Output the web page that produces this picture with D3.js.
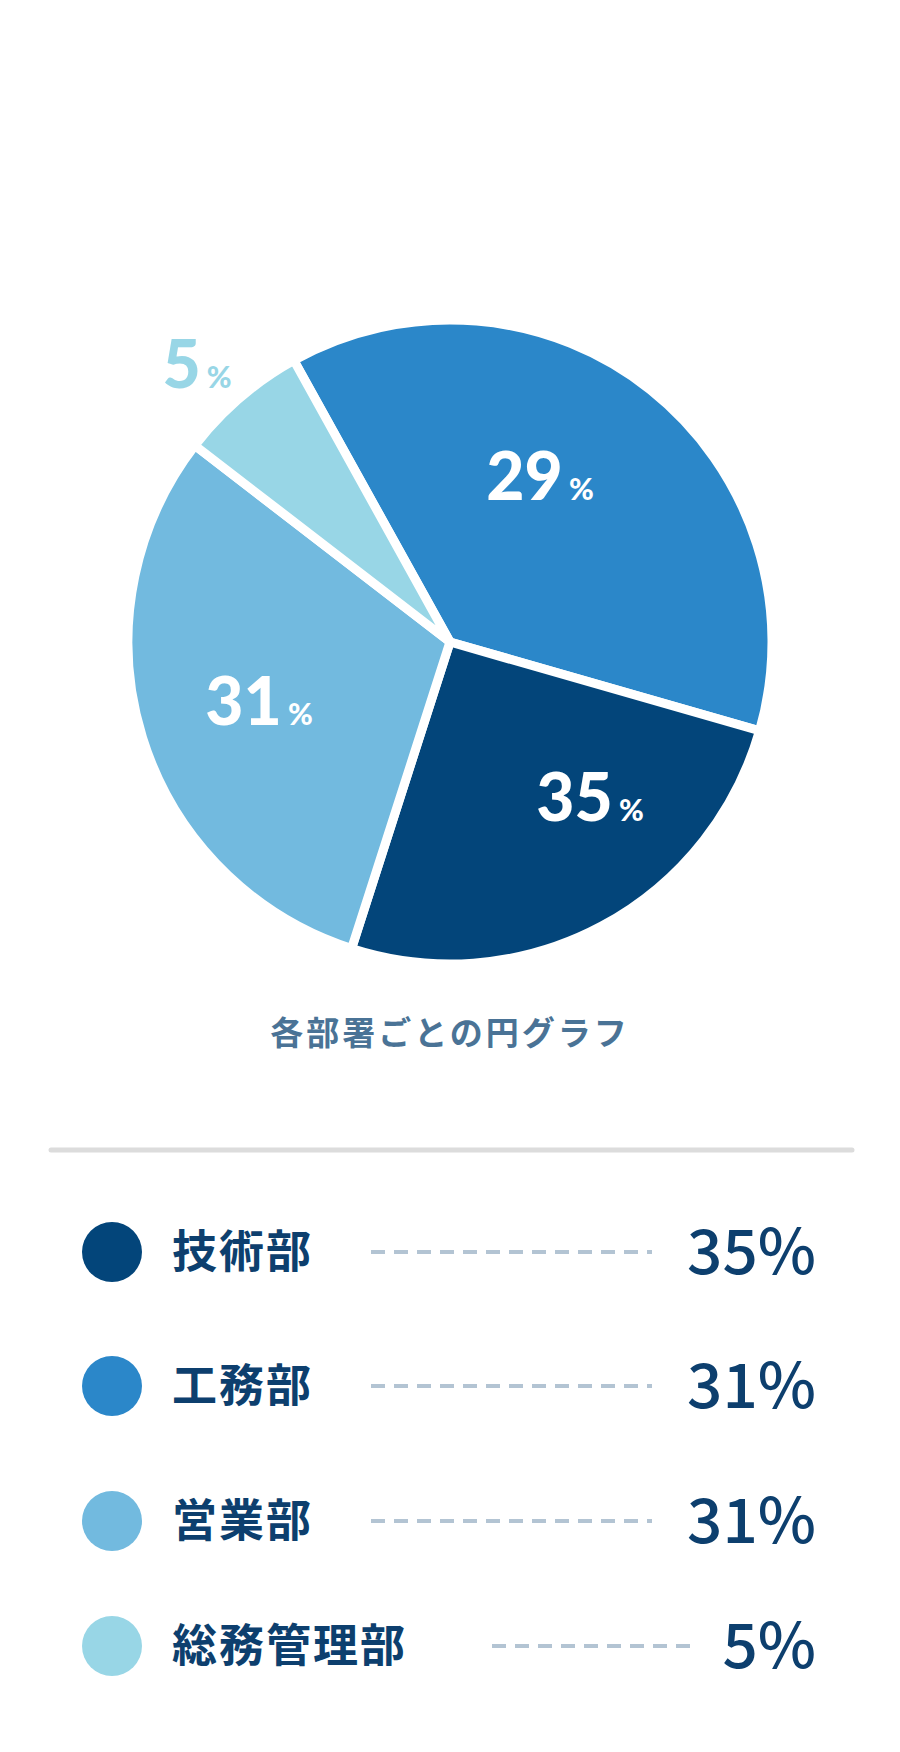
<!DOCTYPE html>
<html><head><meta charset="utf-8">
<script src="https://cdn.jsdelivr.net/npm/d3@7"></script>
<style>body{margin:0;background:#fff}svg{display:block}</style>
</head><body>
<svg id="chart" width="900" height="1752"></svg>
<script>
// slices as drawn (clockwise from top), labels as printed
var depts = ["工務部", "技術部", "営業部", "総務管理部"];
var drawnShare = [37.5, 25.5, 30.5, 6.5];
var pieLabels = ["29", "35", "31", "5"];
var colors = ["#2b87c9", "#03457a", "#72badf", "#98d6e6"];

var legendNames = ["技術部", "工務部", "営業部", "総務管理部"];
var legendValues = ["35%", "31%", "31%", "5%"];
var legendColors = ["#03457a", "#2b87c9", "#72badf", "#98d6e6"];

var svg = d3.select("#chart");
var cx = 450, cy = 642, r = 322;
var startA = -29 * Math.PI / 180;

var pie = d3.pie().sort(null).value(function(d){return d;})
    .startAngle(startA).endAngle(startA + 2 * Math.PI);
var arcs = pie(drawnShare);
var arc = d3.arc().innerRadius(0).outerRadius(r);

var g = svg.append("g").attr("transform", "translate(" + cx + "," + cy + ")");
g.selectAll("path").data(arcs).enter().append("path")
    .attr("d", arc)
    .attr("fill", function(d, i){return colors[i];})
    .attr("stroke", "#fff").attr("stroke-width", 9).attr("stroke-linejoin", "round");

var labelPos = [[90, -164], [140, 157], [-191, 61], [-253, -276]];
var lab = g.selectAll("text.lab").data(arcs).enter().append("text")
    .attr("class", "lab")
    .attr("x", function(d, i){return labelPos[i][0];})
    .attr("y", function(d, i){return labelPos[i][1] + 22;})
    .attr("text-anchor", "middle")
    .attr("fill", function(d, i){return i === 3 ? "#98d6e6" : "#fff";})
    .style("font-family", "Lato, 'Open Sans', sans-serif").style("font-weight", 900);
lab.append("tspan").style("font-size", "66px").text(function(d, i){return pieLabels[i];});
lab.append("tspan").style("font-size", "30px").attr("dx", 6).text("%");

svg.append("text").attr("x", 450).attr("y", 1045).attr("text-anchor", "middle")
    .attr("fill", "#4a7396").style("font-family", "'Noto Sans CJK JP', sans-serif")
    .style("font-weight", 700).style("font-size", "33px").style("letter-spacing", "3px")
    .text("各部署ごとの円グラフ");

svg.append("line").attr("x1", 51).attr("x2", 852).attr("y1", 1150).attr("y2", 1150)
    .attr("stroke", "#dcdcdc").attr("stroke-width", 5).attr("stroke-linecap", "round");

var rowY = [1252, 1386, 1521, 1646];
var dashX = [[371, 652], [371, 652], [371, 652], [492, 692]];
var rows = svg.selectAll("g.row").data(legendNames).enter().append("g")
    .attr("class", "row")
    .attr("transform", function(d, i){return "translate(0," + rowY[i] + ")";});
rows.append("circle").attr("cx", 112).attr("cy", 0).attr("r", 30)
    .attr("fill", function(d, i){return legendColors[i];});
rows.append("text").attr("x", 172).attr("y", 16)
    .attr("fill", "#0d3f6e").style("font-family", "'Noto Sans CJK JP', sans-serif")
    .style("font-weight", 700).style("font-size", "45px").style("letter-spacing", "2px")
    .text(function(d){return d;});
rows.append("line")
    .attr("x1", function(d, i){return dashX[i][0];})
    .attr("x2", function(d, i){return dashX[i][1];})
    .attr("y1", 0).attr("y2", 0)
    .attr("stroke", "#b3c4d3").attr("stroke-width", 4).attr("stroke-dasharray", "14 9");
rows.append("text").attr("x", 816).attr("y", 22).attr("text-anchor", "end")
    .attr("fill", "#0d3f6e").style("font-family", "'Noto Sans CJK JP', sans-serif")
    .style("font-weight", 500).style("font-size", "62px")
    .text(function(d, i){return legendValues[i];});
</script>
</body></html>
